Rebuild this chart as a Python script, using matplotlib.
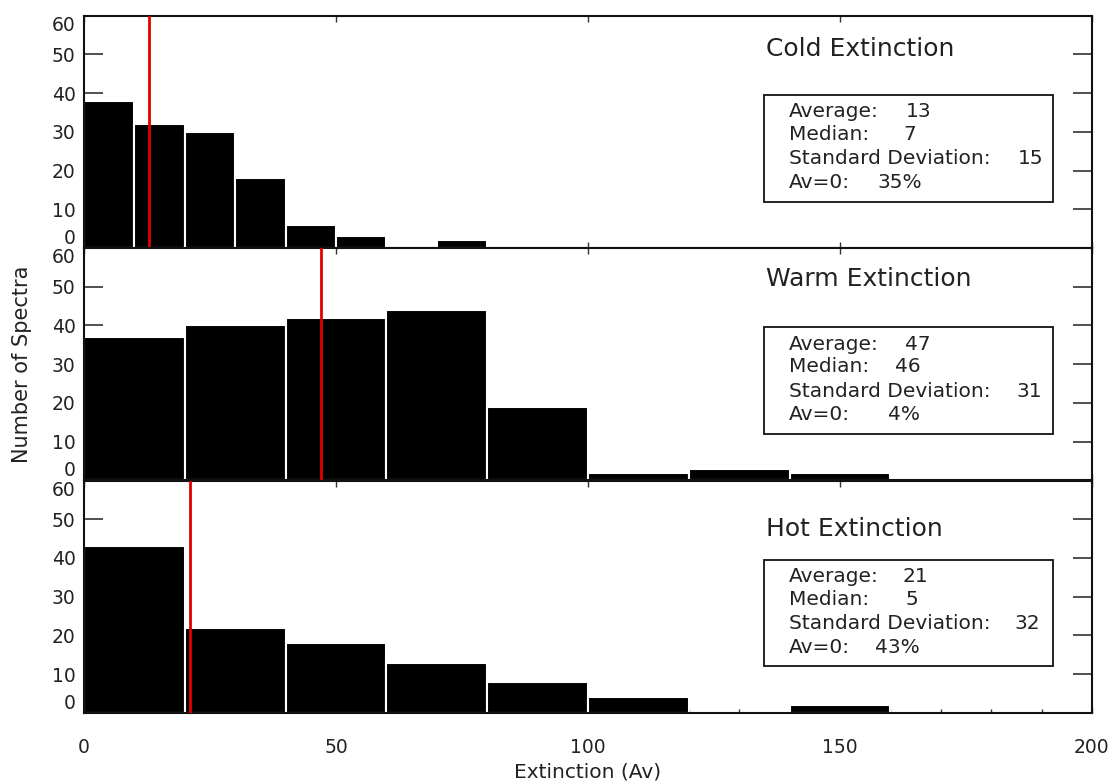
import numpy as np
import matplotlib
matplotlib.use("Agg")
import matplotlib.pyplot as plt
from matplotlib.patches import Rectangle
from matplotlib.ticker import MultipleLocator

# histogram counts per bin (Av)
cold_edges = [0, 10, 20, 30, 40, 50, 60, 70]
cold_counts = [38, 32, 30, 18, 6, 3, 0, 2]
warm_edges = [0, 20, 40, 60, 80, 100, 120, 140]
warm_counts = [37, 40, 42, 44, 19, 2, 3, 2]
hot_edges = [0, 20, 40, 60, 80, 100, 120, 140]
hot_counts = [43, 22, 18, 13, 8, 4, 0, 2]

names = ["Cold Extinction", "Warm Extinction", "Hot Extinction"]
averages = [13, 47, 21]
medians = [7, 46, 5]
std_devs = [15, 31, 32]
av_zero = ["35%", "4%", "43%"]

edges_all = [cold_edges, warm_edges, hot_edges]
counts_all = [cold_counts, warm_counts, hot_counts]
widths = [10, 20, 20]
title_y = [51.5, 52, 47.5]
# x positions of the numbers in each stats box
avg_x = [163.0, 163.0, 162.5]
med_x = [162.5, 161.0, 163.0]
std_x = [190.3, 190.1, 189.8]   # right-aligned
av0_x = [157.5, 159.5, 157.0]

txt = "#222222"
fig = plt.figure(figsize=(11.15, 7.83), dpi=100)

left, width = 0.0753, 0.904
h = 0.2967
bottoms = [0.6833, 0.3866, 0.0896]

axes = []
for i in range(3):
    ax = fig.add_axes([left, bottoms[i], width, h])
    axes.append(ax)
    ax.bar(edges_all[i], counts_all[i], width=widths[i], align="edge",
           color="black", edgecolor="white", linewidth=1.5, zorder=2)
    ax.axvline(averages[i], color="#e00000", lw=2, zorder=3)

    ax.set_xlim(0, 200)
    ax.set_ylim(0, 60)
    ax.set_yticks(np.arange(0, 61, 10))
    ax.set_xticks([0, 50, 100, 150, 200])
    ax.tick_params(axis="y", direction="in", length=14, width=1.2,
                   left=True, right=True, labelsize=13.5, labelcolor=txt,
                   color="#333333", pad=6)
    ax.tick_params(axis="x", direction="in", length=4, width=1,
                   top=True, bottom=True, color="#333333")
    ylabels = ax.get_yticklabels()
    ylabels[0].set_va("bottom")
    ylabels[-1].set_va("top")
    for sp in ax.spines.values():
        sp.set_linewidth(1.5)
        sp.set_color("#111111")

    if i < 2:
        ax.tick_params(axis="x", labelbottom=False)
    else:
        ax.xaxis.set_minor_locator(MultipleLocator(10))
        ax.tick_params(axis="x", which="minor", direction="in", length=3,
                       width=1, top=False, bottom=True, color="#333333")
        ax.tick_params(axis="x", labelsize=13.5, labelcolor=txt, pad=18)
        ax.set_xlabel("Extinction (Av)", fontsize=14.5, color=txt, labelpad=4)

    # panel name and statistics box
    ax.text(135.3, title_y[i], names[i], fontsize=18, color=txt,
            va="center", ha="left")
    ax.add_patch(Rectangle((134.9, 12.0), 57.4, 27.6, fill=False,
                           edgecolor="#111111", lw=1.3, zorder=4))
    rows = [35.2, 29.4, 23.0, 17.0]
    fs = 14.5
    ax.text(139.8, rows[0], "Average:", fontsize=fs, color=txt, va="center")
    ax.text(avg_x[i], rows[0], f"{averages[i]}", fontsize=fs, color=txt,
            va="center")
    ax.text(139.8, rows[1], "Median:", fontsize=fs, color=txt, va="center")
    ax.text(med_x[i], rows[1], f"{medians[i]}", fontsize=fs, color=txt,
            va="center")
    ax.text(139.8, rows[2], "Standard Deviation:", fontsize=fs, color=txt,
            va="center")
    ax.text(std_x[i], rows[2], f"{std_devs[i]}", fontsize=fs, color=txt,
            va="center", ha="right")
    ax.text(139.8, rows[3], "Av=0:", fontsize=fs, color=txt, va="center")
    ax.text(av0_x[i], rows[3], av_zero[i], fontsize=fs, color=txt,
            va="center")

fig.text(0.02, 0.535, "Number of Spectra", rotation=90, fontsize=15,
         color=txt, ha="center", va="center")

fig.savefig("out.png", dpi=100)
